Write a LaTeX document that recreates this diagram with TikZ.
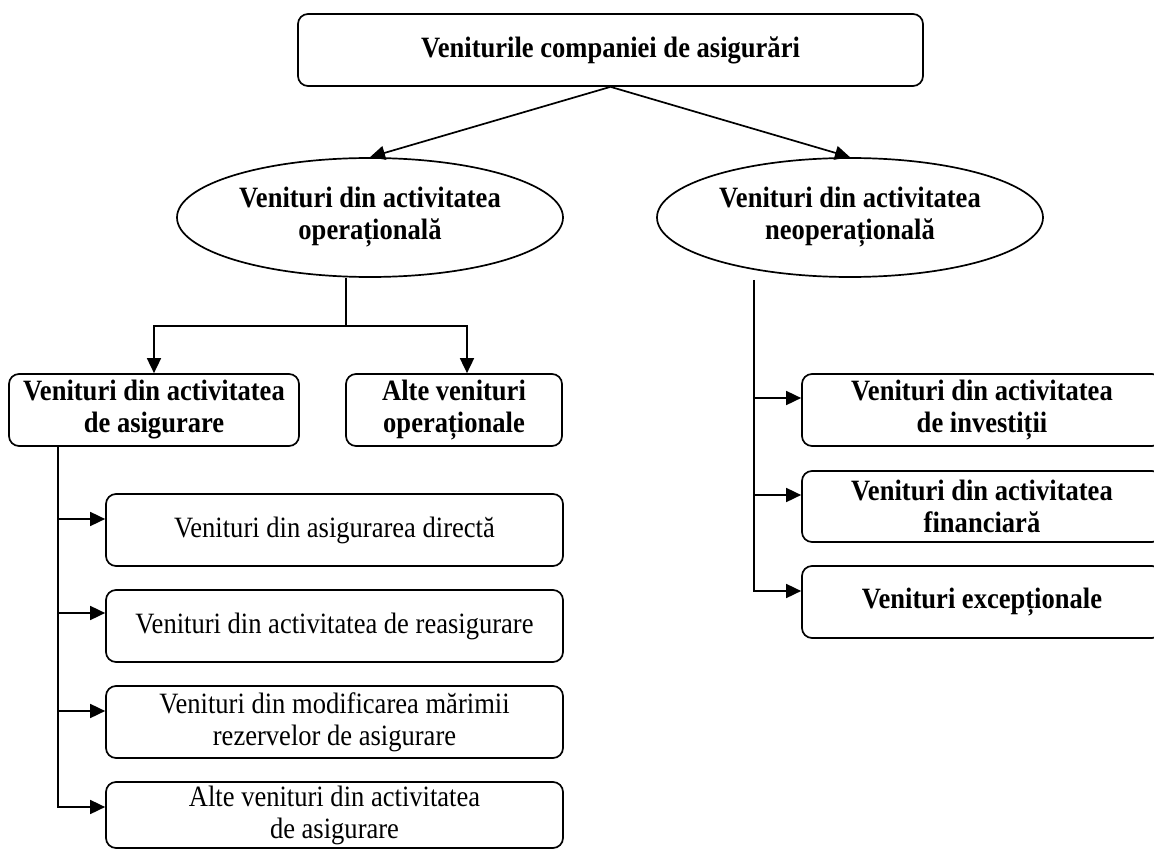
\documentclass[tikz,border=0pt]{standalone}
\usepackage{fontspec}
\setmainfont{Liberation Serif}[FakeStretch=0.9]
\usetikzlibrary{arrows.meta,shapes.geometric,calc}
\begin{document}
\begin{tikzpicture}[x=1pt,y=-1pt,
  every node/.style={font=\fontsize{29.5pt}{32pt}\selectfont, align=center, inner sep=0pt},
  box/.style={draw, line width=1.7pt, rounded corners=10pt, rectangle},
  bbox/.style={box, font=\fontsize{29.5pt}{32pt}\selectfont\bfseries},
  oval/.style={ellipse, draw, line width=1.7pt, font=\fontsize{29.5pt}{32pt}\selectfont\bfseries,
               minimum width=386pt, minimum height=119pt},
  conn/.style={line width=1.7pt},
  arr/.style={conn, -{Triangle[length=15pt,width=14pt]}}
]
\clip (0,0) rectangle (1154,850);
% nodes
\node[bbox, minimum width=625pt, minimum height=72pt] (top) at (610.5,50) {Veniturile companiei de asigurări};
\node[oval] (op) at (370,217.5) {Venituri din activitatea\\operațională};
\node[oval] (nop) at (850,217.5) {Venituri din activitatea\\neoperațională};
\node[bbox, minimum width=290pt, minimum height=72pt] (asig) at (154,410) {Venituri din activitatea\\de asigurare};
\node[bbox, minimum width=216pt, minimum height=72pt] (alte) at (454,410) {Alte venituri\\operaționale};
\node[box, minimum width=457pt, minimum height=72pt] (d1) at (334.5,530) {Venituri din asigurarea directă};
\node[box, minimum width=457pt, minimum height=72pt] (d2) at (334.5,626) {Venituri din activitatea de reasigurare};
\node[box, minimum width=457pt, minimum height=72pt] (d3) at (334.5,722) {Venituri din modificarea mărimii\\rezervelor de asigurare};
\node[box, minimum width=457pt, minimum height=66pt] (d4) at (334.5,815) {Alte venituri din activitatea\\de asigurare};
\node[bbox, minimum width=360pt, minimum height=72pt] (r1) at (982,410) {Venituri din activitatea\\de investiții};
\node[bbox, minimum width=360pt, minimum height=71pt] (r2) at (982,506.5) {Venituri din activitatea\\financiară};
\node[bbox, minimum width=360pt, minimum height=72pt] (r3) at (982,602) {Venituri excepționale};
% top arrows
\draw[arr] (top.south) -- (op.north);
\draw[arr] (top.south) -- (nop.north);
% operational branch
\coordinate (j) at (346,326);
\coordinate (jr) at (467,326);
\draw[conn] (op.south -| j) -- (j);
\draw[arr] (j) -| (asig.north);
\draw[arr] (j) -| (jr |- alte.north);
% lower-left spine
\coordinate (lx) at (58,446);
\coordinate (p1) at ($(d1.west)+(0,-11)$);
\coordinate (p2) at ($(d2.west)+(0,-13)$);
\coordinate (p3) at ($(d3.west)+(0,-11)$);
\coordinate (p4) at ($(d4.west)+(0,-8)$);
\draw[arr] (asig.south -| lx) |- (p4);
\draw[arr] (lx |- p1) -- (p1);
\draw[arr] (lx |- p2) -- (p2);
\draw[arr] (lx |- p3) -- (p3);
% right spine
\coordinate (rs) at (754,280);
\coordinate (q1) at ($(r1.west)+(0,-12)$);
\coordinate (q2) at ($(r2.west)+(0,-11.5)$);
\coordinate (q3) at ($(r3.west)+(0,-11)$);
\draw[arr] (rs) |- (q3);
\draw[arr] (rs |- q1) -- (q1);
\draw[arr] (rs |- q2) -- (q2);
\end{tikzpicture}
\end{document}
